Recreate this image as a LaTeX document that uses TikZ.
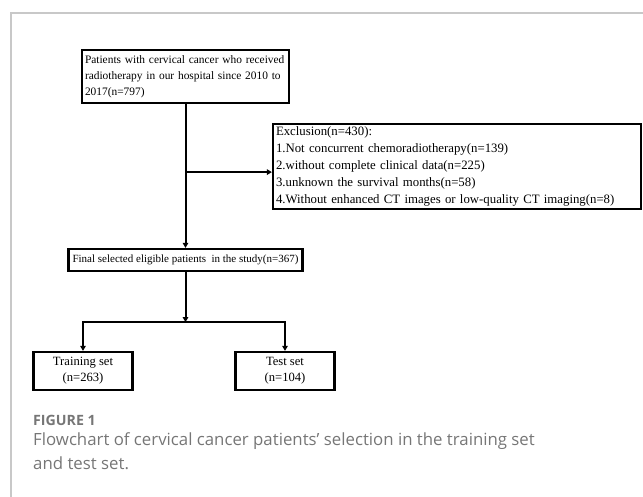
\documentclass[tikz,border=0pt]{standalone}
\usepackage{fontspec}
\setmainfont{Liberation Serif}
\newfontfamily\capfont{Open Sans}
\usetikzlibrary{positioning, arrows.meta}

\definecolor{framegray}{RGB}{200,200,200}
\definecolor{capgray}{RGB}{118,118,118}

\tikzset{
  stage/.style={draw, line width=2.2pt, inner sep=3pt, font=\fontsize{11.4}{16}\selectfont},
  setbox/.style={stage, minimum width=99pt, minimum height=38pt, align=center, font=\fontsize{12.6}{16}\selectfont},
  flow/.style={line width=2pt, -{Triangle[length=5pt, width=5.5pt]}},
}

\begin{document}
\begin{tikzpicture}[x=1pt, y=1pt, node distance=2cm, on grid]
\useasboundingbox (0,0) rectangle (643,-497);
\draw[framegray, line width=1.2pt] (11,-497) |- (643,-13);

\node[stage, text width=201pt, minimum height=53pt, align=left] (src) at (185.5,-76.5)
  {Patients with cervical cancer who received\\radiotherapy in our hospital since 2010 to\\2017(n=797)};
\node[stage, text width=362pt, minimum height=85pt, align=left,
  font=\fontsize{12.8}{17}\selectfont, right=271.5pt of src, yshift=-90pt] (excl)
  {Exclusion(n=430):\\
   1.Not concurrent chemoradiotherapy(n=139)\\
   2.without complete clinical data(n=225)\\
   3.unknown the survival months(n=58)\\
   4.Without enhanced CT images or low-quality CT imaging(n=8)};
\node[stage, minimum width=234pt, minimum height=22pt, inner sep=1pt, font=\fontsize{11}{14}\selectfont,
  below=183.5pt of src] (final)
  {Final selected eligible patients\ \ in the study(n=367)};
\node[setbox, below left=111pt and 102.5pt of final] (train) {Training set\\(n=263)};
\node[setbox, below right=111pt and 99.5pt of final] (test) {Test set\\(n=104)};

\coordinate[below=68pt of src.south] (branch);
\coordinate[below=50pt of final.south] (split);

\draw[line width=2pt] (src) -- (branch);
\draw[flow] (branch) -- (final);
\draw[flow] (branch) -- (branch -| excl.west);
\draw[flow] (final) -- (split);
\draw[flow] (split) -| (train);
\draw[flow] (split) -| (test);

% caption
\node[anchor=west, inner sep=0pt, text=capgray, font=\capfont\bfseries\fontsize{14.2}{15}\selectfont] (figno) at (33,-420) {FIGURE 1};
\node[anchor=north west, inner sep=0pt, text=capgray, align=left, font=\capfont\fontsize{16.8}{24}\selectfont,
  below right=7pt and 0pt of figno.south west] (cap)
  {Flowchart of cervical cancer patients’ selection in the training set\\and test set.};
\end{tikzpicture}
\end{document}
